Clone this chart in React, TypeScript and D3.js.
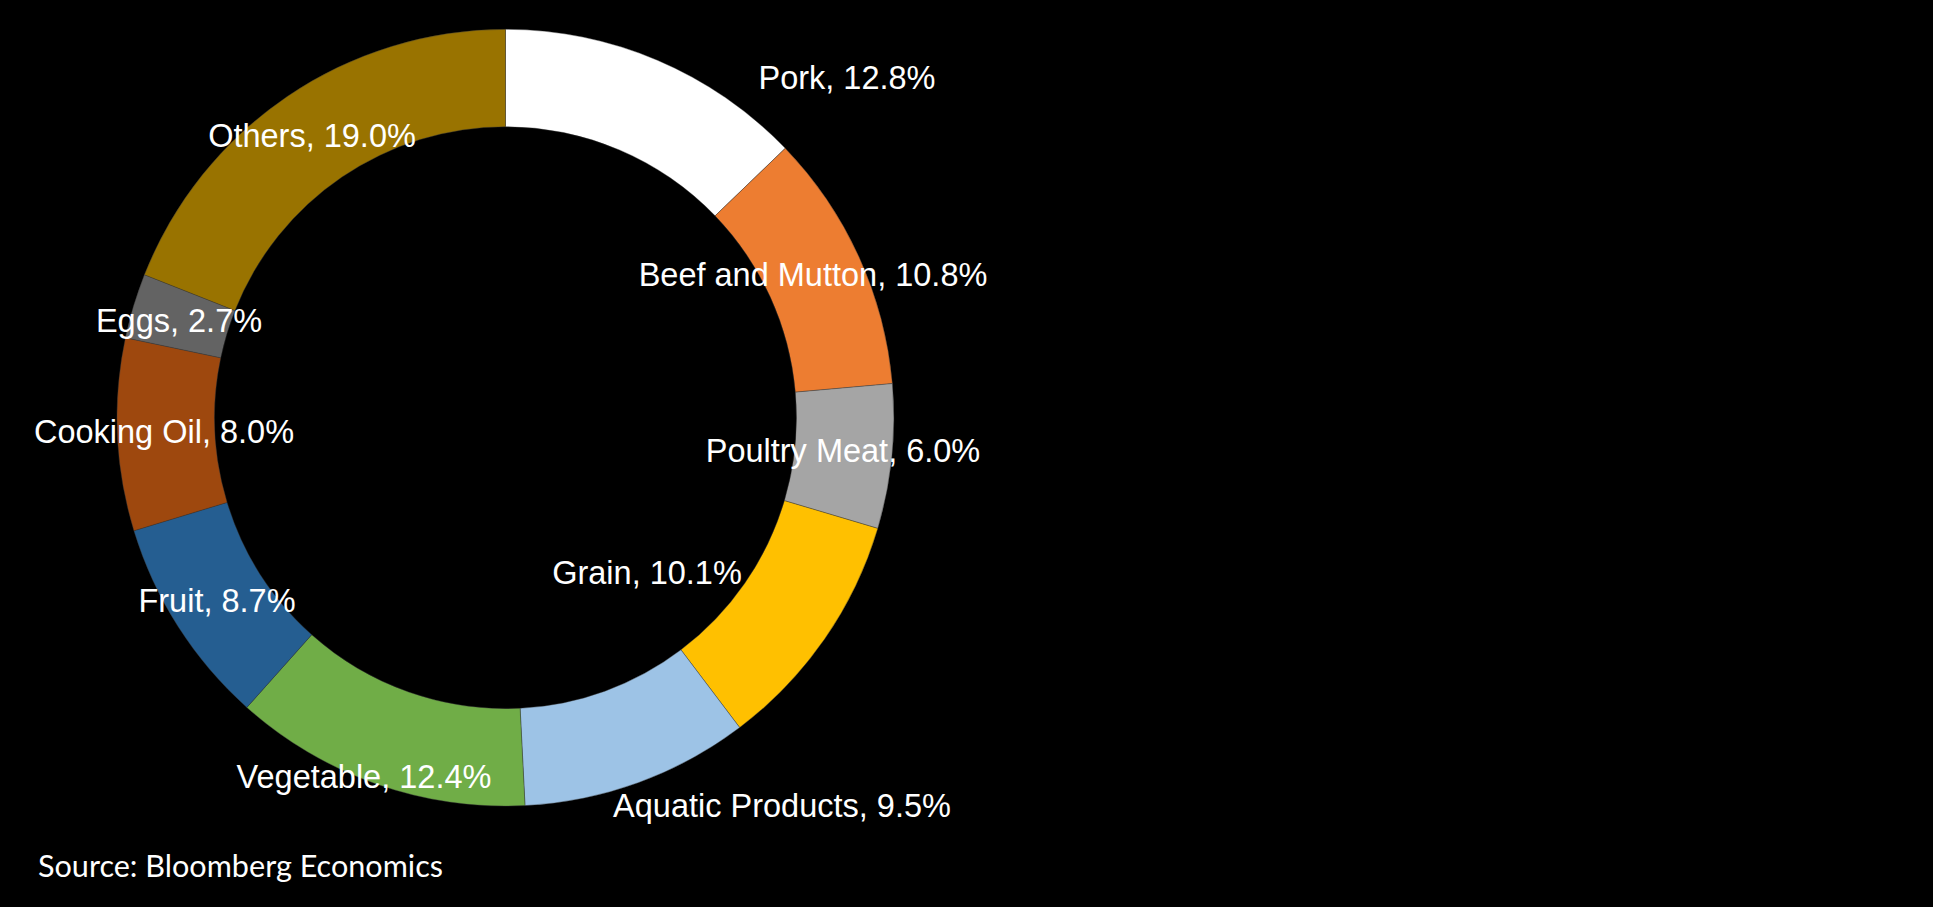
import React, { useRef, useEffect } from 'react';
import * as d3 from 'd3';

const categories = [
  'Pork',
  'Beef and Mutton',
  'Poultry Meat',
  'Grain',
  'Aquatic Products',
  'Vegetable',
  'Fruit',
  'Cooking Oil',
  'Eggs',
  'Others',
];

const shares = [12.8, 10.8, 6.0, 10.1, 9.5, 12.4, 8.7, 8.0, 2.7, 19.0];

const sliceColors = [
  '#FFFFFF',
  '#ED7D31',
  '#A5A5A5',
  '#FFC000',
  '#9DC3E6',
  '#70AD47',
  '#255E91',
  '#9E480E',
  '#636363',
  '#997300',
];

// label anchors were dragged by hand in the source deck: centre x and baseline y
const labelAnchors: [number, number][] = [
  [847, 89],
  [813, 286],
  [843, 462],
  [647, 584],
  [782, 817],
  [364, 788],
  [217, 612],
  [164, 443],
  [179, 332],
  [312, 147],
];

const sourceNote = 'Source: Bloomberg Economics';

const App: React.FC = () => {
  const svgRef = useRef<SVGSVGElement>(null);

  useEffect(() => {
    if (!svgRef.current) return;
    const width = 1933;
    const height = 907;
    const cx = 505.5;
    const cy = 417.7;
    const outerR = 388.4;
    const innerR = 291;

    const svg = d3.select(svgRef.current);
    svg.selectAll('*').remove();

    svg.append('rect').attr('width', width).attr('height', height).attr('fill', '#000');

    const data = categories.map((c, i) => ({ name: c, value: shares[i], color: sliceColors[i] }));

    const pie = d3.pie<{ name: string; value: number; color: string }>()
      .sort(null)
      .value(d => d.value)
      .startAngle(0)
      .endAngle(2 * Math.PI);

    const arc = d3.arc<d3.PieArcDatum<{ name: string; value: number; color: string }>>()
      .innerRadius(innerR)
      .outerRadius(outerR);

    const ring = svg.append('g').attr('transform', `translate(${cx},${cy})`);

    ring.selectAll('path')
      .data(pie(data))
      .enter()
      .append('path')
      .attr('d', arc)
      .attr('fill', d => d.data.color)
      .attr('stroke', '#3a3a3a')
      .attr('stroke-width', 0.4);

    const labels = svg.append('g');
    data.forEach((d, i) => {
      labels.append('text')
        .attr('x', labelAnchors[i][0])
        .attr('y', labelAnchors[i][1])
        .attr('text-anchor', 'middle')
        .style('font-family', 'Arial, "Liberation Sans", sans-serif')
        .style('font-size', '32.5px')
        .style('fill', '#fff')
        .text(`${d.name}, ${d.value.toFixed(1)}%`);
    });

    svg.append('text')
      .attr('x', 38)
      .attr('y', 877)
      .attr('textLength', 405)
      .attr('lengthAdjust', 'spacingAndGlyphs')
      .style('font-family', 'Lato, "Open Sans", sans-serif')
      .style('font-size', '30px')
      .style('fill', '#fff')
      .text(sourceNote);
  }, []);

  return (
    <svg
      ref={svgRef}
      width={1933}
      height={907}
      style={{ position: 'absolute', left: 0, top: 0, display: 'block', background: '#000' }}
    />
  );
};

export default App;
